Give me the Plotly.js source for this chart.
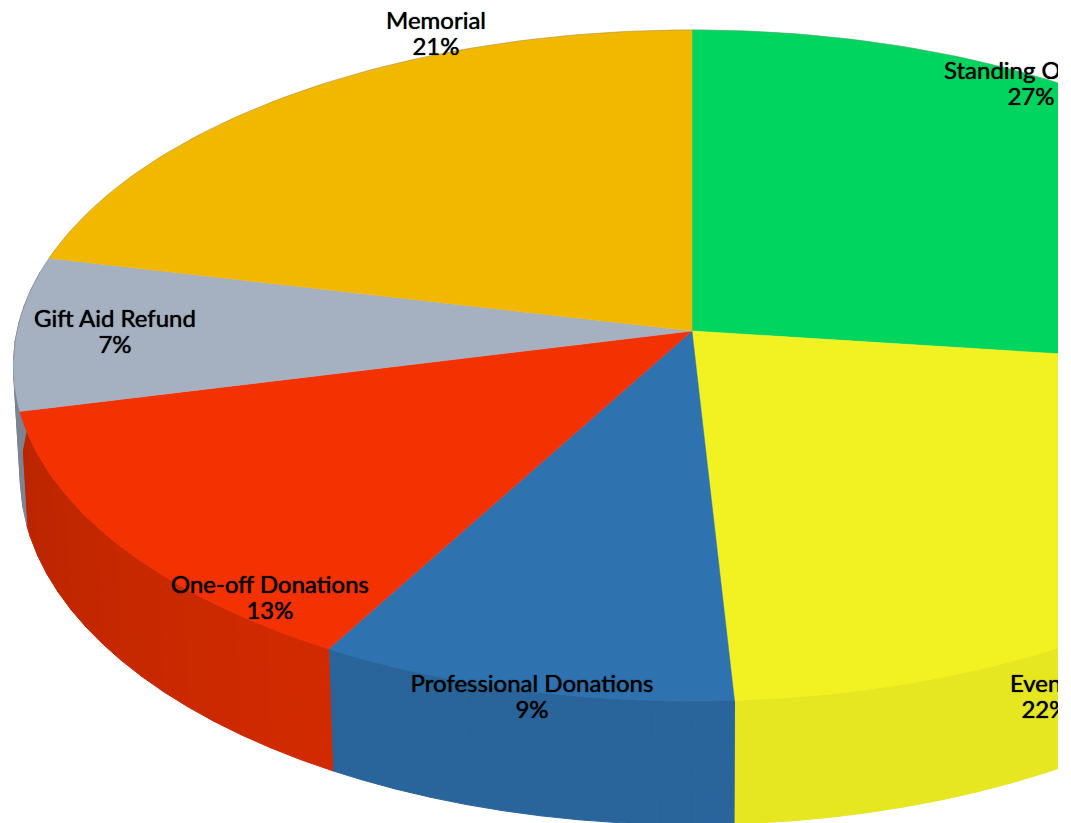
<!DOCTYPE html>
<html>
<head>
<meta charset="utf-8">
<script src="https://cdn.plot.ly/plotly-3.0.1.min.js"></script>
<style>html,body{margin:0;padding:0;background:#fff}#chart{width:1071px;height:823px}</style>
</head>
<body>
<div id="chart"></div>
<script>
// Data, clockwise from 12 o'clock
const categories = ["Standing Orders", "Events", "Professional Donations", "One-off Donations", "Gift Aid Refund", "Memorial"];
const shares = [27.0, 22.1, 9.05, 13.05, 7.4, 21.4];
const percentLabels = ["27%", "22%", "9%", "13%", "7%", "21%"];

// Style
const topColors = ["#00D65F", "#F2F223", "#2E72AF", "#F43100", "#A5B0C1", "#F2B800"];
const labelX = [1029, 1045, 532, 270, 115, 436];
const percentX = [1031, 1045, 532, 270, 115, 436];
const nameY = [73, 686, 686, 587, 321, 23];
const percentY = [99, 712, 712, 613, 347, 49];

// Projection of the tilted disc onto the axes
const CX = 692, CY = 331, RX = 675, RY = 332, P = 0.1028, DEPTH = 111;
function project(deg, down) {
  const t = deg * Math.PI / 180, u = Math.sin(t), v = -Math.cos(t), w = 1 - P * v;
  const x = CX + RX * u / w, y = CY + RY * v / w;
  if (!down) return [x, y];
  const d = DEPTH / w;
  return [CX + (x - CX) * (1 - d / 11000), y + d];
}
function shade(hex, k) {
  const n = parseInt(hex.slice(1), 16);
  const c = [n >> 16, (n >> 8) & 255, n & 255].map(q => Math.round(q * k));
  return "rgb(" + c.join(",") + ")";
}
function wallLight(deg) {
  if (deg < 177) return 0.95;
  if (deg < 210) return 0.885;
  return Math.max(0.75, 0.86 - (deg - 210) / 50 * 0.11);
}

const total = shares.reduce((a, b) => a + b, 0);
const walls = [], tops = [];
let start = 0;
shares.forEach((s, i) => {
  const end = start + s / total * 360;
  // side wall, one flat facet at a time
  const STEP = 3;
  for (let a = start; a < end; a += STEP) {
    const b = Math.min(a + STEP, end), mid = (a + b) / 2;
    if (Math.cos(mid * Math.PI / 180) > 0.2) continue;
    const col = shade(topColors[i], wallLight(mid));
    const p = [project(a), project(b), project(b, true), project(a, true), project(a)];
    walls.push({x: p.map(q => q[0]), y: p.map(q => q[1]), mode: "lines", fill: "toself",
      fillcolor: col, line: {color: col, width: 1}, hoverinfo: "skip", showlegend: false, type: "scatter"});
  }
  // top face
  const xs = [CX], ys = [CY];
  for (let a = start; ; a += 1) {
    const q = project(Math.min(a, end));
    xs.push(q[0]); ys.push(q[1]);
    if (a >= end) break;
  }
  xs.push(CX); ys.push(CY);
  tops.push({x: xs, y: ys, mode: "lines", fill: "toself", fillcolor: topColors[i],
    line: {color: topColors[i], width: 0.5}, hoverinfo: "skip", showlegend: false, type: "scatter"});
  start = end;
});
// thin rim along the back edge
const rimX = [], rimY = [];
for (let a = -95; a <= 100; a += 1) {
  const q = project(a);
  rimX.push(q[0]); rimY.push(q[1]);
}
const rim = {x: rimX, y: rimY, mode: "lines", line: {color: "rgba(120,120,120,0.35)", width: 1},
  hoverinfo: "skip", showlegend: false, type: "scatter"};
const font = {family: "Lato, Carlito, sans-serif", size: 24, color: "#000", shadow: "0 0 1px #000"};
const names = {x: labelX, y: nameY, mode: "text", type: "scatter", cliponaxis: true, text: categories,
  textposition: "middle center", textfont: font, hoverinfo: "skip", showlegend: false};
const percents = {x: percentX, y: percentY, mode: "text", type: "scatter", cliponaxis: true, text: percentLabels,
  textposition: "middle center", textfont: font, hoverinfo: "skip", showlegend: false};

Plotly.newPlot("chart", walls.concat(tops, [rim, names, percents]), {
  width: 1071, height: 823, margin: {l: 0, r: 13, t: 0, b: 0, pad: 0},
  paper_bgcolor: "#fff", plot_bgcolor: "#fff", showlegend: false, hovermode: false,
  xaxis: {range: [0, 1058], visible: false, fixedrange: true},
  yaxis: {range: [823, 0], visible: false, fixedrange: true}
}, {displayModeBar: false, staticPlot: true});
</script>
</body>
</html>
